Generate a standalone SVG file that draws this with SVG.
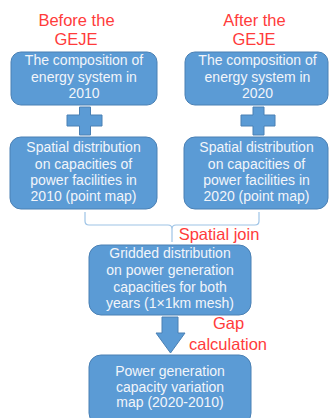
<svg xmlns="http://www.w3.org/2000/svg" width="329" height="418" viewBox="0 0 329 418">
<defs>
<style>
.box{fill:#5b9bd5;stroke:#4a80b4;stroke-width:1}
.bt{fill:#f2f5fa;font-family:"Liberation Sans",Arial,sans-serif;font-size:14px;text-anchor:middle}
.red{fill:#ff3b3b;font-family:"Liberation Sans",Arial,sans-serif;font-size:16.5px;text-anchor:middle}
.con{fill:none;stroke:#9dc3e6;stroke-width:1.2}
.plus{fill:#5b9bd5;stroke:#4a80b4;stroke-width:1}
</style>
</defs>
<rect width="329" height="418" fill="#ffffff"/>
<g id="titles">
<text class="red" x="76.5" y="26">Before the</text>
<text class="red" x="76" y="45">GEJE</text>
<text class="red" x="254.5" y="26">After the</text>
<text class="red" x="254" y="45">GEJE</text>
</g>
<g id="connectors">
<path class="plus" d="M79.5,107 H90.5 V115 H102 V126 H90.5 V135 H79.5 V126 H67 V115 H79.5 Z"/>
<path class="plus" d="M253,107 H264 V115 H275 V126 H264 V135 H253 V126 H241 V115 H253 Z"/>
<path class="con" d="M85,212 V221 Q85,225 89,225 H168 Q172,225 172,229 V242 M172,229 Q172,225 176,225 H255 Q259,225 259,221 V212"/>
<path class="plus" d="M162,317 H178 V333 H185 L170.5,353 L156,333 H162 Z"/>
</g>
<g id="n1">
<rect class="box" x="11" y="52" width="146" height="53" rx="10"/>
<text class="bt" x="84" y="65">The composition of</text>
<text class="bt" x="84" y="81.5">energy system in</text>
<text class="bt" x="84" y="98">2010</text>
</g>
<g id="n2">
<rect class="box" x="185" y="52" width="143" height="53" rx="10"/>
<text class="bt" x="257.5" y="65">The composition of</text>
<text class="bt" x="257.5" y="81.5">energy system in</text>
<text class="bt" x="257.5" y="98">2020</text>
</g>
<g id="n3">
<rect class="box" x="10" y="137" width="147" height="72" rx="11"/>
<text class="bt" x="83.5" y="152">Spatial distribution</text>
<text class="bt" x="83.5" y="168.5">on capacities of</text>
<text class="bt" x="83.5" y="185">power facilities in</text>
<text class="bt" x="83.5" y="201">2010 (point map)</text>
</g>
<g id="n4">
<rect class="box" x="184" y="137" width="144" height="72" rx="11"/>
<text class="bt" x="256.5" y="152">Spatial distribution</text>
<text class="bt" x="256.5" y="168.5">on capacities of</text>
<text class="bt" x="256.5" y="185">power facilities in</text>
<text class="bt" x="256.5" y="201">2020 (point map)</text>
</g>
<g id="label-join">
<text class="red" x="219" y="240">Spatial join</text>
</g>
<g id="n5">
<rect class="box" x="89" y="245" width="162" height="70" rx="12"/>
<text class="bt" x="170" y="258">Gridded distribution</text>
<text class="bt" x="170" y="275">on power generation</text>
<text class="bt" x="170" y="292">capacities for both</text>
<text class="bt" x="170" y="308">years (1×1km mesh)</text>
</g>
<g id="label-gap">
<text class="red" x="228.5" y="329">Gap</text>
<text class="red" x="228" y="350">calculation</text>
</g>
<g id="n6">
<rect class="box" x="89" y="355" width="162" height="70" rx="12"/>
<text class="bt" x="170" y="376">Power generation</text>
<text class="bt" x="170" y="392">capacity variation</text>
<text class="bt" x="170" y="407">map (2020-2010)</text>
</g>
</svg>
